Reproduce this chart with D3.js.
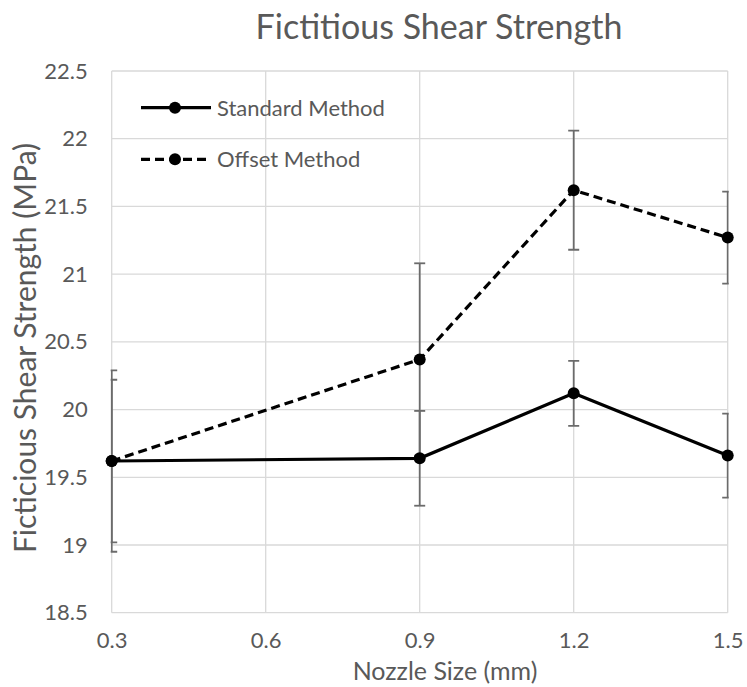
<!DOCTYPE html>
<html>
<head>
<meta charset="utf-8">
<script src="https://cdn.jsdelivr.net/npm/d3@7/dist/d3.min.js"></script>
<style>
  html, body { margin: 0; padding: 0; background: #fff; }
  text { font-family: Lato, "Liberation Sans", sans-serif; fill: #595959; }
</style>
</head>
<body>
<svg id="chart" width="747" height="687"></svg>
<script>
// Nozzle sizes (mm) and mean fictitious shear strength (MPa) per method
const nozzleSizes = [0.3, 0.9, 1.2, 1.5];
const standardMean = [19.62, 19.64, 20.12, 19.66];
const standardErr  = [0.60, 0.35, 0.24, 0.31];
const offsetMean   = [19.62, 20.37, 21.62, 21.27];
const offsetErr    = [0.67, 0.71, 0.44, 0.34];

const xTicks = [0.3, 0.6, 0.9, 1.2, 1.5];
const yTicks = [18.5, 19, 19.5, 20, 20.5, 21, 21.5, 22, 22.5];

const series = [
  { name: "Standard Method", mean: standardMean, err: standardErr, dash: null },
  { name: "Offset Method",   mean: offsetMean,   err: offsetErr,   dash: "9,5" }
];

const svg = d3.select("#chart");
const plot = { left: 111.7, right: 727.7, top: 71, bottom: 612.7 };

const x = d3.scaleLinear().domain([0.3, 1.5]).range([plot.left, plot.right]);
const y = d3.scaleLinear().domain([18.5, 22.5]).range([plot.bottom, plot.top]);

// Gridlines
const grid = svg.append("g").attr("stroke", "#d9d9d9").attr("stroke-width", 1.3);
grid.selectAll("line.h").data(yTicks).join("line")
  .attr("x1", plot.left).attr("x2", plot.right)
  .attr("y1", d => y(d)).attr("y2", d => y(d));
grid.selectAll("line.v").data(xTicks).join("line")
  .attr("y1", plot.top).attr("y2", plot.bottom)
  .attr("x1", d => x(d)).attr("x2", d => x(d));

// Axes (labels only)
const yAxis = svg.append("g")
  .attr("transform", `translate(${plot.left - 7},0)`)
  .call(d3.axisLeft(y).tickValues(yTicks).tickSize(0).tickPadding(17).tickFormat(d3.format("")));
yAxis.select(".domain").remove();
yAxis.selectAll("text").style("font-size", "22px").attr("fill", "#595959");

const xAxis = svg.append("g")
  .attr("transform", `translate(0,${plot.bottom})`)
  .call(d3.axisBottom(x).tickValues(xTicks).tickSize(0).tickPadding(20).tickFormat(d3.format(".1f")));
xAxis.select(".domain").remove();
xAxis.selectAll("text").style("font-size", "22px").attr("fill", "#595959");

// Clip for error bars to the plot area
svg.append("clipPath").attr("id", "plotClip")
  .append("rect")
  .attr("x", plot.left - 1).attr("y", 0)
  .attr("width", plot.right - plot.left + 2).attr("height", 687);

// Error bars
const capHalf = 5.5;
const errG = svg.append("g").attr("clip-path", "url(#plotClip)")
  .attr("stroke", "#6b6b6b").attr("stroke-width", 1.8).attr("fill", "none");
series.forEach(s => {
  nozzleSizes.forEach((n, i) => {
    const cx = x(n), lo = y(s.mean[i] - s.err[i]), hi = y(s.mean[i] + s.err[i]);
    errG.append("line").attr("x1", cx).attr("x2", cx).attr("y1", lo).attr("y2", hi);
    errG.append("line").attr("x1", cx - capHalf).attr("x2", cx + capHalf).attr("y1", lo).attr("y2", lo);
    errG.append("line").attr("x1", cx - capHalf).attr("x2", cx + capHalf).attr("y1", hi).attr("y2", hi);
  });
});

// Series lines and markers
const line = d3.line().x(d => x(d[0])).y(d => y(d[1]));
series.forEach(s => {
  const pts = nozzleSizes.map((n, i) => [n, s.mean[i]]);
  svg.append("path").datum(pts)
    .attr("d", line)
    .attr("fill", "none").attr("stroke", "#000").attr("stroke-width", 3.2)
    .attr("stroke-dasharray", s.dash);
  svg.append("g").selectAll("circle").data(pts).join("circle")
    .attr("cx", d => x(d[0])).attr("cy", d => y(d[1])).attr("r", 6).attr("fill", "#000");
});

// Legend
const legend = svg.append("g");
series.forEach((s, i) => {
  const ly = 107.7 + i * 51.6;
  legend.append("line").attr("x1", 141).attr("x2", 211).attr("y1", ly).attr("y2", ly)
    .attr("stroke", "#000").attr("stroke-width", 3.2).attr("stroke-dasharray", s.dash);
  legend.append("circle").attr("cx", 175).attr("cy", ly).attr("r", 6).attr("fill", "#000");
  legend.append("text").attr("x", 217).attr("y", ly).attr("dy", "0.36em")
    .style("font-size", "22px").text(s.name);
});

// Title and axis titles
svg.append("text").attr("x", 439).attr("y", 39).attr("text-anchor", "middle")
  .style("font-size", "34px").text("Fictitious Shear Strength");
svg.append("text").attr("x", 445).attr("y", 680).attr("text-anchor", "middle")
  .style("font-size", "25px").text("Nozzle Size (mm)");
svg.append("text")
  .attr("transform", `translate(36,348) rotate(-90)`)
  .attr("text-anchor", "middle")
  .style("font-size", "30px")
  .text("Ficticious Shear Strength (MPa)");
</script>
</body>
</html>
